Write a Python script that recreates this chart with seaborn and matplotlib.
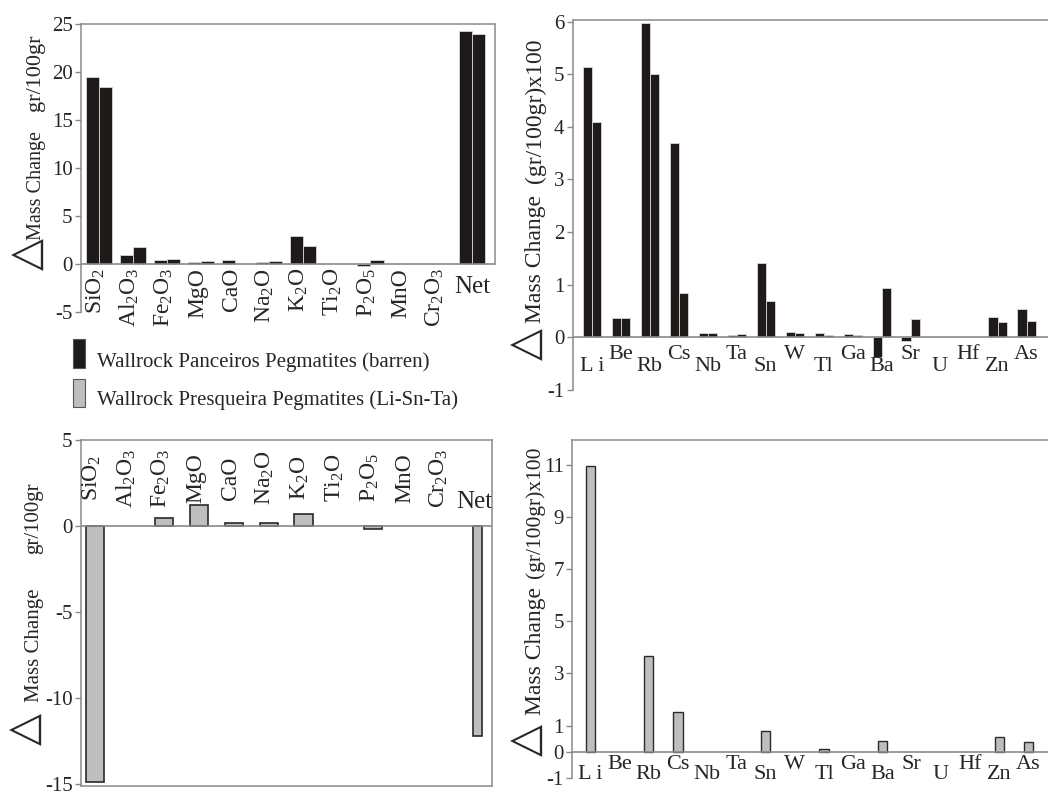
import matplotlib
matplotlib.use('Agg')
import matplotlib.pyplot as plt
from matplotlib.patches import Rectangle
import pandas as pd
import seaborn as sns

# ---- data ----
oxides = ['SiO2', 'Al2O3', 'Fe2O3', 'MgO', 'CaO', 'Na2O', 'K2O', 'Ti2O', 'P2O5', 'MnO', 'Cr2O3', 'Net']
oxide_labels = [r'SiO$_2$', r'Al$_2$O$_3$', r'Fe$_2$O$_3$', 'MgO', 'CaO', r'Na$_2$O', r'K$_2$O',
                r'Ti$_2$O', r'P$_2$O$_5$', 'MnO', r'Cr$_2$O$_3$', 'Net']
# Panceiros (barren) wallrock, two samples
panc_major_a = [19.5, 0.95, 0.45, 0.2, 0.45, 0.25, 2.95, 0.0, -0.2, 0.0, 0.0, 24.3]
panc_major_b = [18.4, 1.8, 0.5, 0.35, 0.0, 0.35, 1.85, 0.0, 0.45, 0.0, 0.0, 24.0]
# Presqueira (Li-Sn-Ta) wallrock
pres_major = [-14.9, 0.0, 0.45, 1.2, 0.15, 0.2, 0.7, 0.0, -0.2, 0.0, 0.0, -12.2]

elements = ['Li', 'Be', 'Rb', 'Cs', 'Nb', 'Ta', 'Sn', 'W', 'Tl', 'Ga', 'Ba', 'Sr', 'U', 'Hf', 'Zn', 'As']
element_labels = ['L i', 'Be', 'Rb', 'Cs', 'Nb', 'Ta', 'Sn', 'W', 'Tl', 'Ga', 'Ba', 'Sr', 'U', 'Hf', 'Zn', 'As']
panc_trace_a = [5.13, 0.36, 5.98, 3.70, 0.075, 0.05, 1.41, 0.11, 0.08, 0.07, -0.38, -0.07, 0.0, 0.0, 0.38, 0.54]
panc_trace_b = [4.10, 0.36, 5.01, 0.85, 0.075, 0.07, 0.70, 0.08, 0.04, 0.05, 0.94, 0.34, 0.0, 0.0, 0.285, 0.32]
pres_trace = [10.95, 0.0, 3.67, 1.52, 0.0, 0.0, 0.79, 0.0, 0.10, 0.0, 0.41, 0.0, 0.0, 0.0, 0.56, 0.38]

legend_labels = ['Wallrock Panceiros Pegmatites (barren)', 'Wallrock Presqueira Pegmatites (Li-Sn-Ta)']

BLACK = '#1e1a1a'
GREY = '#bebebe'
SPINE = '#8a8a8a'

sns.set_style('white')
plt.rcParams['font.family'] = ['Liberation Serif', 'DejaVu Sans']
plt.rcParams['mathtext.default'] = 'regular'

fig = plt.figure(figsize=(10.48, 7.94), dpi=100)
W, H = 1048, 794


def box(l, t, r, b):
    return [l / W, 1 - b / H, (r - l) / W, (b - t) / H]


def pair_df(cats, a, b):
    return pd.DataFrame({'cat': cats * 2, 'val': a + b,
                         'sample': ['a'] * len(cats) + ['b'] * len(cats)})


def style_axis(ax, yticks):
    ax.set_xticks([])
    ax.set_yticks(yticks)
    ax.set_yticklabels([str(t) for t in yticks], fontsize=15)
    ax.tick_params(axis='y', direction='out', length=4, width=1, color=SPINE, pad=2, left=True)
    ax.set_xlabel('')
    ax.set_ylabel('')
    ax.axhline(0, color=SPINE, lw=1.2, zorder=1)
    for s in ax.spines.values():
        s.set_color(SPINE)
        s.set_linewidth(1.1)
    for p in ax.patches:
        if p.get_height() == 0:
            p.set_linewidth(0)


# ---- top left: major oxides, Panceiros ----
ax1 = fig.add_axes(box(81, 24, 495, 312))
sns.barplot(data=pair_df(oxides, panc_major_a, panc_major_b), x='cat', y='val', hue='sample',
            palette=[BLACK, BLACK], width=0.77, saturation=1, errorbar=None, legend=False,
            edgecolor='#d8d8d8', linewidth=0.6, ax=ax1)
ax1.set_xlim(-0.53, 11.67)
ax1.set_ylim(-5, 25)
style_axis(ax1, [-5, 0, 5, 10, 15, 20, 25])
ax1.spines['bottom'].set_visible(False)
ax1.spines['right'].set_bounds(0, 25)
for i, lab in enumerate(oxide_labels):
    if lab == 'Net':
        ax1.text(i, -1.3, lab, fontsize=18, ha='center', va='top')
    else:
        ax1.text(i - 0.1, -0.4, lab, fontsize=17, rotation=90, ha='center', va='top')

# ---- top right: trace elements, Panceiros ----
ax2 = fig.add_axes(box(572.7, 20, 1048, 390))
sns.barplot(data=pair_df(elements, panc_trace_a, panc_trace_b), x='cat', y='val', hue='sample',
            palette=[BLACK, BLACK], width=0.63, saturation=1, errorbar=None, legend=False,
            edgecolor='#d8d8d8', linewidth=0.6, ax=ax2)
ax2.set_xlim(-0.66, 15.74)
ax2.set_ylim(-1, 6.03)
style_axis(ax2, [-1, 0, 1, 2, 3, 4, 5, 6])
ax2.spines['bottom'].set_visible(False)
ax2.spines['right'].set_visible(False)
for i, lab in enumerate(element_labels):
    ax2.text(i, -0.555 if i % 2 == 0 else -0.327, lab, fontsize=16, ha='center', va='center')

# ---- bottom left: major oxides, Presqueira ----
ax3 = fig.add_axes(box(81, 440, 492, 786))
sns.barplot(x=oxides, y=pres_major, color=GREY, width=0.52, saturation=1, errorbar=None,
            edgecolor='#2a2a2a', linewidth=1.2, ax=ax3)
net_bar = ax3.patches[-1]
cx = net_bar.get_x() + net_bar.get_width() / 2
net_bar.set_width(0.28)
net_bar.set_x(cx - 0.14)
ax3.set_xlim(-0.40, 11.42)
ax3.set_ylim(-15.12, 5)
style_axis(ax3, [-15, -10, -5, 0, 5])
for i, lab in enumerate(oxide_labels):
    if lab == 'Net':
        ax3.text(i - 0.1, 1.4, lab, fontsize=18, ha='center', va='center')
    else:
        ax3.text(i - 0.1, 2.8, lab, fontsize=17, rotation=90, ha='center', va='center')

# ---- bottom right: trace elements, Presqueira ----
ax4 = fig.add_axes(box(572.3, 440, 1048, 777.7))
sns.barplot(x=elements, y=pres_trace, color=GREY, width=0.31, saturation=1, errorbar=None,
            edgecolor='#2a2a2a', linewidth=1.0, ax=ax4)
ax4.set_xlim(-0.62, 15.67)
ax4.set_ylim(-1, 11.96)
style_axis(ax4, [-1, 0, 1, 3, 5, 7, 9, 11])
ax4.spines['bottom'].set_visible(False)
ax4.spines['right'].set_visible(False)
for i, lab in enumerate(element_labels):
    ax4.text(i, -0.86 if i % 2 == 0 else -0.51, lab, fontsize=16, ha='center', va='center')

# ---- y axis titles ----
def ytitle(xp, tri_y, mass_y, mass_fs, unit_y, unit, unit_fs):
    fig.text(xp / W - 0.008, 1 - tri_y / H, '\u25b3', fontsize=30, rotation=90,
             ha='center', va='center', family=['DejaVu Sans'])
    fig.text(xp / W, 1 - mass_y / H, 'Mass Change', fontsize=mass_fs, rotation=90, ha='center', va='center')
    fig.text(xp / W, 1 - unit_y / H, unit, fontsize=unit_fs, rotation=90, ha='center', va='center')


ytitle(36, 254, 185, 14.5, 73, 'gr/100gr', 16)
ytitle(535, 344, 259, 17, 111, '(gr/100gr)x100', 17)
ytitle(34, 729, 645, 15, 518, 'gr/100gr', 15)
ytitle(535, 740, 651, 17, 512, '(gr/100gr)x100', 15.5)

# ---- legend ----
for (y0, y1), col, lab, ty in [((339, 368), BLACK, legend_labels[0], 362),
                               ((379, 407), GREY, legend_labels[1], 400)]:
    fig.patches.append(Rectangle((73 / W, 1 - y1 / H), 12 / W, (y1 - y0) / H, transform=fig.transFigure,
                                 facecolor=col, edgecolor='#555555', linewidth=0.8))
    fig.text(97 / W, 1 - ty / H, lab, fontsize=15, ha='left', va='center')

fig.savefig('out.png', dpi=100)
